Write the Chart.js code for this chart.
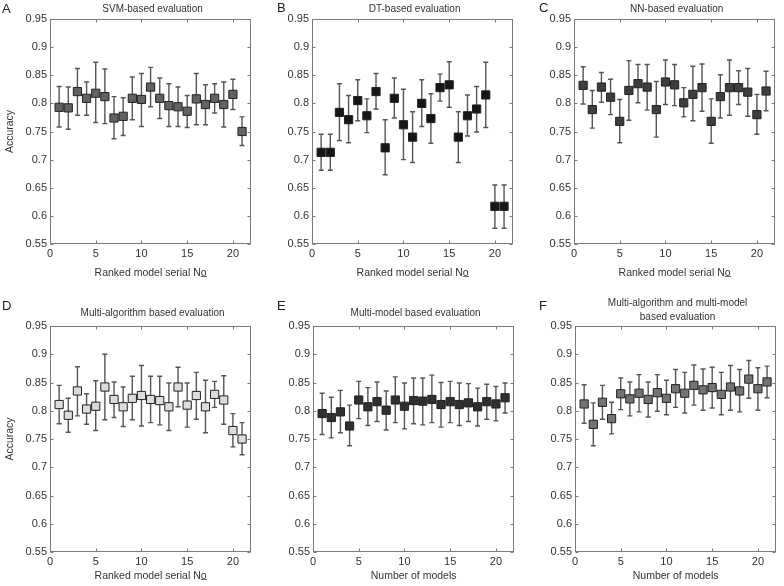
<!DOCTYPE html>
<html>
<head>
<meta charset="utf-8">
<script src="https://cdn.jsdelivr.net/npm/chart.js@4.4.1/dist/chart.umd.min.js"></script>
<style>
    html, body { margin: 0; padding: 0; background: #fff; overflow: hidden; }
    #wrap { position: relative; width: 784px; height: 586px; }
    canvas { position: absolute; }
</style>
</head>
<body>
<div id="wrap">
    <canvas id="chart-A" width="258" height="290" style="left:0px;top:0px"></canvas>
    <canvas id="chart-B" width="258" height="290" style="left:262px;top:0px"></canvas>
    <canvas id="chart-C" width="258" height="290" style="left:524px;top:0px"></canvas>
    <canvas id="chart-D" width="258" height="296" style="left:0px;top:290px"></canvas>
    <canvas id="chart-E" width="258" height="296" style="left:263px;top:290px"></canvas>
    <canvas id="chart-F" width="258" height="296" style="left:525px;top:290px"></canvas>
</div>
<script>
// x positions (ranked model / number of models)
const modelNo = [1, 2, 3, 4, 5, 6, 7, 8, 9, 10, 11, 12, 13, 14, 15, 16, 17, 18, 19, 20, 21];
const xTickValues = [0, 5, 10, 15, 20];
const yTickValues = [0.55, 0.6, 0.65, 0.7, 0.75, 0.8, 0.85, 0.9, 0.95];

// A - SVM
const svmAcc  = [0.793, 0.792, 0.821, 0.809, 0.818, 0.812, 0.774, 0.777, 0.809, 0.807, 0.829, 0.809, 0.796, 0.794, 0.786, 0.808, 0.798, 0.809, 0.798, 0.816, 0.750];
const svmLow  = [0.758, 0.754, 0.779, 0.779, 0.766, 0.764, 0.737, 0.743, 0.771, 0.759, 0.794, 0.773, 0.759, 0.759, 0.757, 0.762, 0.762, 0.783, 0.758, 0.789, 0.725];
const svmHigh = [0.830, 0.829, 0.862, 0.838, 0.873, 0.861, 0.812, 0.810, 0.847, 0.853, 0.864, 0.845, 0.835, 0.829, 0.814, 0.853, 0.833, 0.835, 0.838, 0.843, 0.776];

// B - DT
const dtAcc  = [0.713, 0.713, 0.784, 0.771, 0.805, 0.778, 0.821, 0.721, 0.809, 0.762, 0.740, 0.800, 0.773, 0.828, 0.833, 0.740, 0.778, 0.790, 0.815, 0.617, 0.617];
const dtLow  = [0.681, 0.681, 0.734, 0.730, 0.769, 0.748, 0.790, 0.673, 0.774, 0.700, 0.695, 0.759, 0.729, 0.804, 0.793, 0.695, 0.742, 0.749, 0.757, 0.578, 0.578];
const dtHigh = [0.745, 0.745, 0.835, 0.814, 0.842, 0.808, 0.853, 0.771, 0.845, 0.825, 0.785, 0.842, 0.817, 0.852, 0.874, 0.785, 0.815, 0.830, 0.873, 0.655, 0.655];

// C - NN
const nnAcc  = [0.832, 0.789, 0.829, 0.811, 0.768, 0.823, 0.835, 0.829, 0.789, 0.838, 0.833, 0.801, 0.816, 0.828, 0.768, 0.812, 0.828, 0.828, 0.820, 0.780, 0.822];
const nnLow  = [0.799, 0.756, 0.802, 0.780, 0.730, 0.770, 0.801, 0.788, 0.740, 0.798, 0.796, 0.776, 0.769, 0.786, 0.729, 0.774, 0.779, 0.798, 0.777, 0.745, 0.787];
const nnHigh = [0.865, 0.823, 0.855, 0.843, 0.807, 0.876, 0.869, 0.869, 0.839, 0.877, 0.869, 0.828, 0.866, 0.870, 0.808, 0.851, 0.877, 0.858, 0.862, 0.816, 0.857];

// D - multi-algorithm
const maAcc  = [0.811, 0.792, 0.835, 0.803, 0.808, 0.842, 0.820, 0.807, 0.822, 0.827, 0.820, 0.818, 0.807, 0.842, 0.810, 0.827, 0.807, 0.829, 0.819, 0.765, 0.750];
const maLow  = [0.777, 0.762, 0.791, 0.776, 0.765, 0.784, 0.788, 0.772, 0.784, 0.773, 0.779, 0.775, 0.765, 0.807, 0.771, 0.785, 0.761, 0.806, 0.776, 0.736, 0.722];
const maHigh = [0.845, 0.822, 0.878, 0.830, 0.853, 0.900, 0.851, 0.842, 0.861, 0.880, 0.861, 0.861, 0.849, 0.877, 0.849, 0.868, 0.854, 0.852, 0.862, 0.795, 0.779];

// E - multi-model
const mmAcc  = [0.795, 0.788, 0.798, 0.773, 0.819, 0.807, 0.816, 0.801, 0.819, 0.808, 0.818, 0.817, 0.820, 0.811, 0.816, 0.811, 0.814, 0.807, 0.816, 0.812, 0.823];
const mmLow  = [0.758, 0.752, 0.761, 0.738, 0.786, 0.774, 0.781, 0.766, 0.779, 0.768, 0.777, 0.775, 0.779, 0.771, 0.779, 0.774, 0.781, 0.773, 0.785, 0.782, 0.796];
const mmHigh = [0.831, 0.824, 0.836, 0.810, 0.852, 0.841, 0.851, 0.835, 0.860, 0.849, 0.858, 0.858, 0.863, 0.850, 0.852, 0.849, 0.848, 0.840, 0.847, 0.843, 0.849];

// F - multi-algorithm and multi-model
const mamAcc  = [0.812, 0.776, 0.815, 0.786, 0.830, 0.821, 0.831, 0.820, 0.832, 0.822, 0.839, 0.831, 0.845, 0.837, 0.841, 0.829, 0.842, 0.835, 0.856, 0.839, 0.851];
const mamLow  = [0.778, 0.738, 0.785, 0.759, 0.802, 0.791, 0.798, 0.789, 0.799, 0.793, 0.806, 0.796, 0.810, 0.801, 0.805, 0.793, 0.801, 0.798, 0.822, 0.801, 0.823];
const mamHigh = [0.846, 0.814, 0.845, 0.815, 0.858, 0.851, 0.864, 0.851, 0.864, 0.854, 0.873, 0.868, 0.881, 0.874, 0.877, 0.868, 0.880, 0.873, 0.889, 0.876, 0.879];

const FONT = '"Liberation Sans", Arial, sans-serif';
const TEXT = '#333';

const panels = [
    {id: 'chart-A', letter: 'A', lx: 2,  ly: 9,  title: ['SVM-based evaluation'], ty: 9,  acc: svmAcc, low: svmLow, high: svmHigh, fill: '#626262', xTitle: 'Ranked model serial No\u0332', yTitle: true,  row: 0},
    {id: 'chart-B', letter: 'B', lx: 15, ly: 8,  title: ['DT-based evaluation'],  ty: 9,  acc: dtAcc,  low: dtLow,  high: dtHigh,  fill: '#161616', xTitle: 'Ranked model serial No\u0332', yTitle: false, row: 0},
    {id: 'chart-C', letter: 'C', lx: 15, ly: 8,  title: ['NN-based evaluation'],  ty: 9,  acc: nnAcc,  low: nnLow,  high: nnHigh,  fill: '#3e3e3e', xTitle: 'Ranked model serial No\u0332', yTitle: false, row: 0},
    {id: 'chart-D', letter: 'D', lx: 2,  ly: 16, title: ['Multi-algorithm based evaluation'], ty: 23, acc: maAcc, low: maLow, high: maHigh, fill: '#dcdcdc', xTitle: 'Ranked model serial No\u0332', yTitle: true,  row: 1},
    {id: 'chart-E', letter: 'E', lx: 14, ly: 16, title: ['Multi-model based evaluation'],     ty: 23, acc: mmAcc, low: mmLow, high: mmHigh, fill: '#2f2f2f', xTitle: 'Number of models', yTitle: false, row: 1},
    {id: 'chart-F', letter: 'F', lx: 14, ly: 16, title: ['Multi-algorithm and multi-model', 'based evaluation'], ty: 13, acc: mamAcc, low: mamLow, high: mamHigh, fill: '#737373', xTitle: 'Number of models', yTitle: false, row: 1}
];

function panelPlugin(p) {
    return {
        id: 'panel' + p.letter,
        beforeDatasetsDraw(chart) {
            const ctx = chart.ctx;
            const xs = chart.scales.x, ys = chart.scales.y;
            ctx.save();
            ctx.strokeStyle = '#555';
            ctx.lineWidth = 1.4;
            p.acc.forEach((v, i) => {
                const x = xs.getPixelForValue(modelNo[i]);
                const y1 = ys.getPixelForValue(p.low[i]);
                const y2 = ys.getPixelForValue(p.high[i]);
                ctx.beginPath();
                ctx.moveTo(x, y1); ctx.lineTo(x, y2);
                ctx.moveTo(x - 2.5, y1); ctx.lineTo(x + 2.5, y1);
                ctx.moveTo(x - 2.5, y2); ctx.lineTo(x + 2.5, y2);
                ctx.stroke();
            });
            ctx.restore();
        },
        afterDraw(chart) {
            const ctx = chart.ctx;
            const a = chart.chartArea;
            const xs = chart.scales.x, ys = chart.scales.y;
            const L = Math.round(a.left) + 0.5, R = Math.round(a.right) - 0.5;
            const T = Math.round(a.top) + 0.5, B = Math.round(a.bottom) - 0.5;
            ctx.save();
            // box with inward ticks
            ctx.strokeStyle = '#7a7a7a';
            ctx.lineWidth = 1;
            ctx.strokeRect(L, T, R - L, B - T);
            ctx.beginPath();
            xTickValues.forEach(v => {
                const x = Math.round(xs.getPixelForValue(v)) + 0.5;
                ctx.moveTo(x, B); ctx.lineTo(x, B - 3);
                ctx.moveTo(x, T); ctx.lineTo(x, T + 3);
            });
            yTickValues.forEach(v => {
                const y = Math.round(ys.getPixelForValue(v)) + 0.5;
                ctx.moveTo(L, y); ctx.lineTo(L + 3, y);
                ctx.moveTo(R, y); ctx.lineTo(R - 3, y);
            });
            ctx.stroke();
            // titles
            ctx.fillStyle = TEXT;
            ctx.textAlign = 'center';
            ctx.textBaseline = 'middle';
            ctx.font = '10px ' + FONT;
            const cx = (a.left + a.right) / 2 + 2;
            p.title.forEach((t, k) => ctx.fillText(t, cx, p.ty + k * 14));
            // panel letter
            ctx.fillStyle = '#222';
            ctx.textAlign = 'left';
            ctx.font = '13px ' + FONT;
            ctx.fillText(p.letter, p.lx, p.ly);
            ctx.restore();
        }
    };
}

function createChart(p) {
    const axisH = p.row === 0 ? 46 : 34;
    new Chart(document.getElementById(p.id), {
        type: 'scatter',
        data: {
            datasets: [{
                data: modelNo.map((x, i) => ({x: x, y: p.acc[i]})),
                pointStyle: 'rect',
                pointRadius: 5.8,
                pointHoverRadius: 5.8,
                backgroundColor: p.fill,
                borderColor: '#222',
                borderWidth: 1,
                showLine: false
            }]
        },
        options: {
            responsive: false,
            animation: false,
            layout: {padding: {top: p.row === 0 ? 19 : 36, right: 2, left: 0, bottom: 0}},
            plugins: {legend: {display: false}, tooltip: {enabled: false}},
            scales: {
                x: {
                    type: 'linear',
                    min: 0,
                    max: 22,
                    afterBuildTicks: s => { s.ticks = xTickValues.map(v => ({value: v})); },
                    afterFit: s => { s.height = axisH; },
                    grid: {display: false, drawTicks: false},
                    border: {display: false},
                    ticks: {
                        color: TEXT,
                        font: {family: FONT, size: 11},
                        padding: 3,
                        maxRotation: 0,
                        autoSkip: false,
                        callback: v => String(v)
                    },
                    title: {
                        display: true,
                        text: p.xTitle,
                        color: TEXT,
                        font: {family: FONT, size: 10.5},
                        padding: {top: 0, bottom: p.row === 0 ? 11 : 4}
                    }
                },
                y: {
                    type: 'linear',
                    min: 0.55,
                    max: 0.95,
                    afterBuildTicks: s => { s.ticks = yTickValues.map(v => ({value: v})); },
                    afterFit: s => { s.width = 50; },
                    grid: {display: false, drawTicks: false},
                    border: {display: false},
                    ticks: {
                        color: TEXT,
                        font: {family: FONT, size: 11},
                        padding: 3,
                        autoSkip: false,
                        callback: v => String(+v.toFixed(2))
                    },
                    title: {
                        display: p.yTitle,
                        text: 'Accuracy',
                        color: TEXT,
                        font: {family: FONT, size: 10.5},
                        padding: {top: 4, bottom: 0}
                    }
                }
            }
        },
        plugins: [panelPlugin(p)]
    });
}

panels.forEach(createChart);
</script>
</body>
</html>
